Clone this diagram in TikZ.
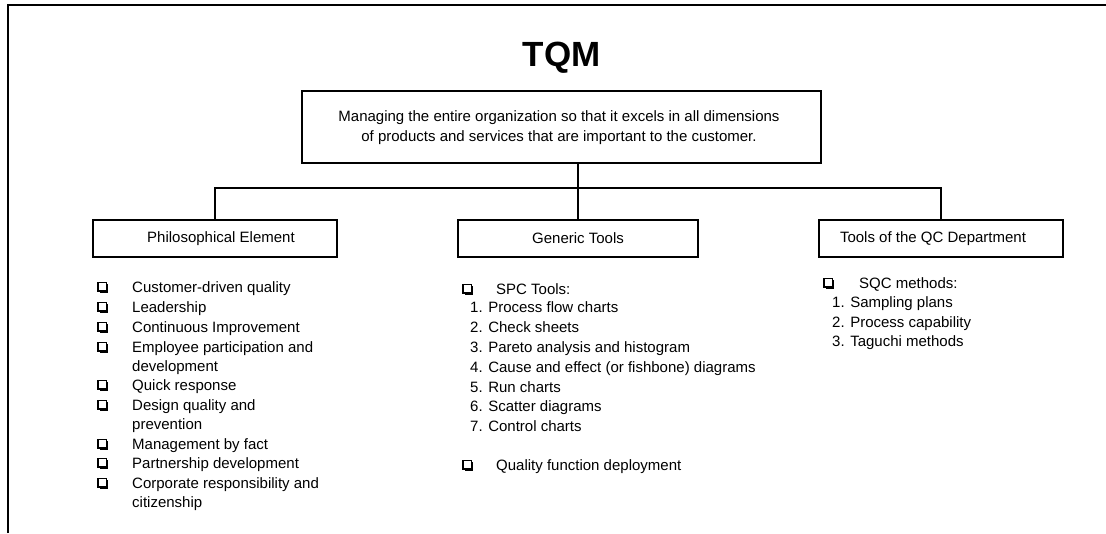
\documentclass[tikz,border=0pt]{standalone}
\usepackage{fontspec}
\setmainfont{Liberation Sans}
\begin{document}
\begin{tikzpicture}[x=1pt,y=-1pt,
  box/.style={draw, line width=1.2pt, inner sep=0pt, minimum height=37pt, font=\fontsize{15}{18}\selectfont},
  item/.style={anchor=base west, inner sep=0pt, font=\fontsize{15}{18}\selectfont},
  conn/.style={line width=1.1pt},
  chk/.pic={\draw[line width=1.2pt] (0,0) rectangle (8.5,8.5);
            \draw[line width=1.4pt] (1.5,9.6) -- (9.6,9.6) -- (9.6,1.5);}]
\useasboundingbox (0,0) rectangle (1106,533);
\fill[white] (0,0) rectangle (1106,533);
% frame
\draw[line width=1.7pt] (8,533) -- (8,5) -- (1106,5);
% title
\node[anchor=base, inner sep=0pt, font=\fontsize{35}{40}\selectfont\bfseries] (title) at (561.5,66) {TQM};
% main box
\node[draw, line width=1.2pt, minimum width=519pt, minimum height=72pt, inner sep=0pt] (main) at (561.5,127) {};
\node[align=center, inner sep=0pt, font=\fontsize{15}{20}\selectfont] (maintxt) at (559,128)
  {Managing the entire organization so that it excels in all dimensions\\of products and services that are important to the customer.};
% category boxes
\node[box, minimum width=244pt] (phil) at (215,238.5) {\hspace*{12pt}Philosophical Element};
\node[box, minimum width=240pt] (gen) at (578,238.5) {Generic Tools};
\node[box, minimum width=244pt] (qc) at (941,238.5) {Tools of the QC Department\hspace*{16pt}};
% connectors
\coordinate (bus) at (578,188);
\draw[conn] (main.south -| gen.north) -- (gen.north);
\draw[conn] (phil.north) |- (bus) -| (qc.north);
% philosophical list
\pic (cb1) at (98,282.5) {chk};
\pic (cb2) at (98,302.5) {chk};
\pic (cb3) at (98,322.5) {chk};
\pic (cb4) at (98,342.5) {chk};
\pic (cb5) at (98,380.5) {chk};
\pic (cb6) at (98,400.5) {chk};
\pic (cb7) at (98,439.5) {chk};
\pic (cb8) at (98,458.5) {chk};
\pic (cb9) at (98,478.5) {chk};
\node[item] (p1) at (132,292) {Customer-driven quality};
\node[item] (p2) at (132,312) {Leadership};
\node[item] (p3) at (132,332) {Continuous Improvement};
\node[item] (p4) at (132,352) {Employee participation and};
\node[item] (p4b) at (132,371) {development};
\node[item] (p5) at (132,390) {Quick response};
\node[item] (p6) at (132,410) {Design quality and};
\node[item] (p6b) at (132,429) {prevention};
\node[item] (p7) at (132,449) {Management by fact};
\node[item] (p8) at (132,468) {Partnership development};
\node[item] (p9) at (132,488) {Corporate responsibility and};
\node[item] (p9b) at (132,507) {citizenship};
% generic list
\pic (cg1) at (463,284.5) {chk};
\pic (cg2) at (463,460.5) {chk};
\node[item] (g0) at (496,294) {SPC Tools:};
\node[item] (g1) at (470,312) {1. Process flow charts};
\node[item] (g2) at (470,332) {2. Check sheets};
\node[item] (g3) at (470,352) {3. Pareto analysis and histogram};
\node[item] (g4) at (470,372) {4. Cause and effect (or fishbone) diagrams};
\node[item] (g5) at (470,392) {5. Run charts};
\node[item] (g6) at (470,411) {6. Scatter diagrams};
\node[item] (g7) at (470,431) {7. Control charts};
\node[item] (g8) at (496,470) {Quality function deployment};
% QC list
\pic (cq1) at (824,278.5) {chk};
\node[item] (q0) at (859,288) {SQC methods:};
\node[item] (q1) at (832,307) {1. Sampling plans};
\node[item] (q2) at (832,327) {2. Process capability};
\node[item] (q3) at (832,346) {3. Taguchi methods};
\end{tikzpicture}
\end{document}
